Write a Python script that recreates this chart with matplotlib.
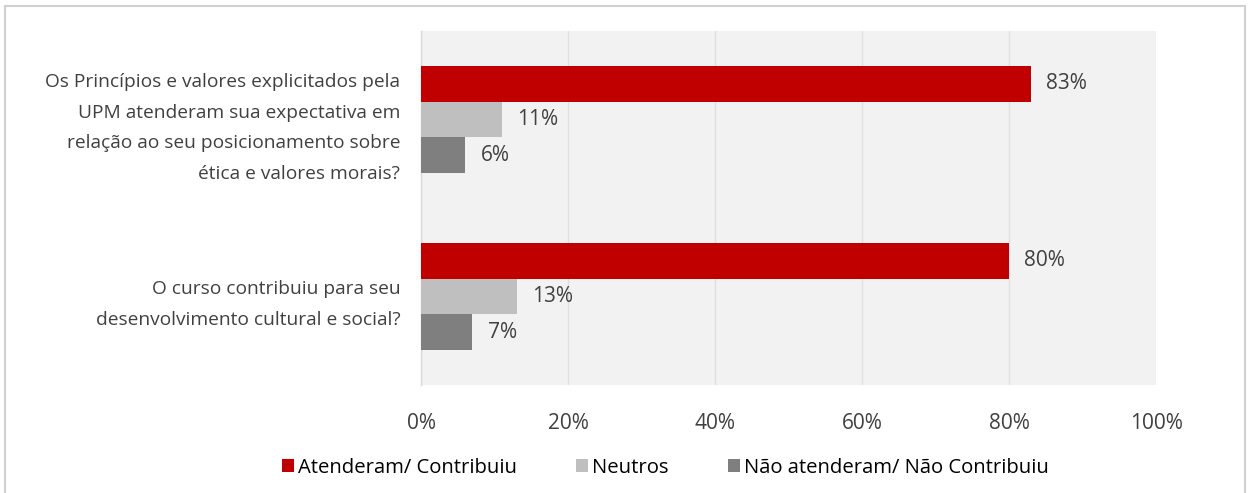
import matplotlib
matplotlib.use("Agg")
import matplotlib.pyplot as plt
from matplotlib.patches import Rectangle
import numpy as np

categories = [
    "Os Princípios e valores explicitados pela\nUPM atenderam sua expectativa em\nrelação ao seu posicionamento sobre\nética e valores morais?",
    "O curso contribuiu para seu\ndesenvolvimento cultural e social?",
]
series_names = ["Atenderam/ Contribuiu", "Neutros", "Não atenderam/ Não Contribuiu"]
atenderam = [83, 80]
neutros = [11, 13]
nao_atenderam = [6, 7]
colors = ["#c00000", "#bfbfbf", "#7f7f7f"]
xticks = [0, 20, 40, 60, 80, 100]
xtick_labels = ["0%", "20%", "40%", "60%", "80%", "100%"]

plt.rcParams['font.family'] = ['Open Sans', 'DejaVu Sans']

fig = plt.figure(figsize=(12.51, 4.93), dpi=100)
# outer border
fig.patches.append(Rectangle((5/1251, -0.02), 1240/1251, 1 - 6/493 + 0.02, transform=fig.transFigure,
                             fill=False, edgecolor="#d0d0d0", linewidth=1.5))
ax = fig.add_axes([421/1251, 1 - 385/493, (1156 - 421)/1251, (385 - 31)/493])
ax.set_facecolor("#f2f2f2")

h = 0.203
y = np.arange(len(categories))
data = [atenderam, neutros, nao_atenderam]
for i, (vals, c, name) in enumerate(zip(data, colors, series_names)):
    ys = y + (i - 1) * h
    ax.barh(ys, vals, height=h, color=c, label=name, zorder=3)
    for yy, v in zip(ys, vals):
        ax.text(v + 2.1, yy, f"{v}%", va="center", ha="left", fontsize=15, color="#404040", zorder=4)

ax.set_xlim(0, 100)
ax.set_ylim(1.5, -0.5)
ax.set_xticks(xticks)
ax.set_xticklabels(xtick_labels, fontsize=15, color="#404040")
ax.set_yticks(y)
ax.set_yticklabels(categories, fontsize=13.8, color="#404040", linespacing=1.9, ha="right")
ax.tick_params(axis="both", length=0)
ax.tick_params(axis="x", pad=20)
ax.tick_params(axis="y", pad=15)
ax.grid(axis="x", color="#e0e0e0", linewidth=1.0, zorder=0)
for s in ["top", "right", "bottom"]:
    ax.spines[s].set_visible(False)
ax.spines["left"].set_color("#d9d9d9")
ax.spines["left"].set_linewidth(1.0)

leg = fig.legend(loc="center", bbox_to_anchor=(0.532, 1 - 468/493), ncol=3, frameon=False,
                 fontsize=14.6, handlelength=0.6, handleheight=0.6, handletextpad=0.2,
                 columnspacing=2.9)
for t in leg.get_texts():
    t.set_color("black")

fig.savefig("out.png", dpi=100, facecolor="white")
